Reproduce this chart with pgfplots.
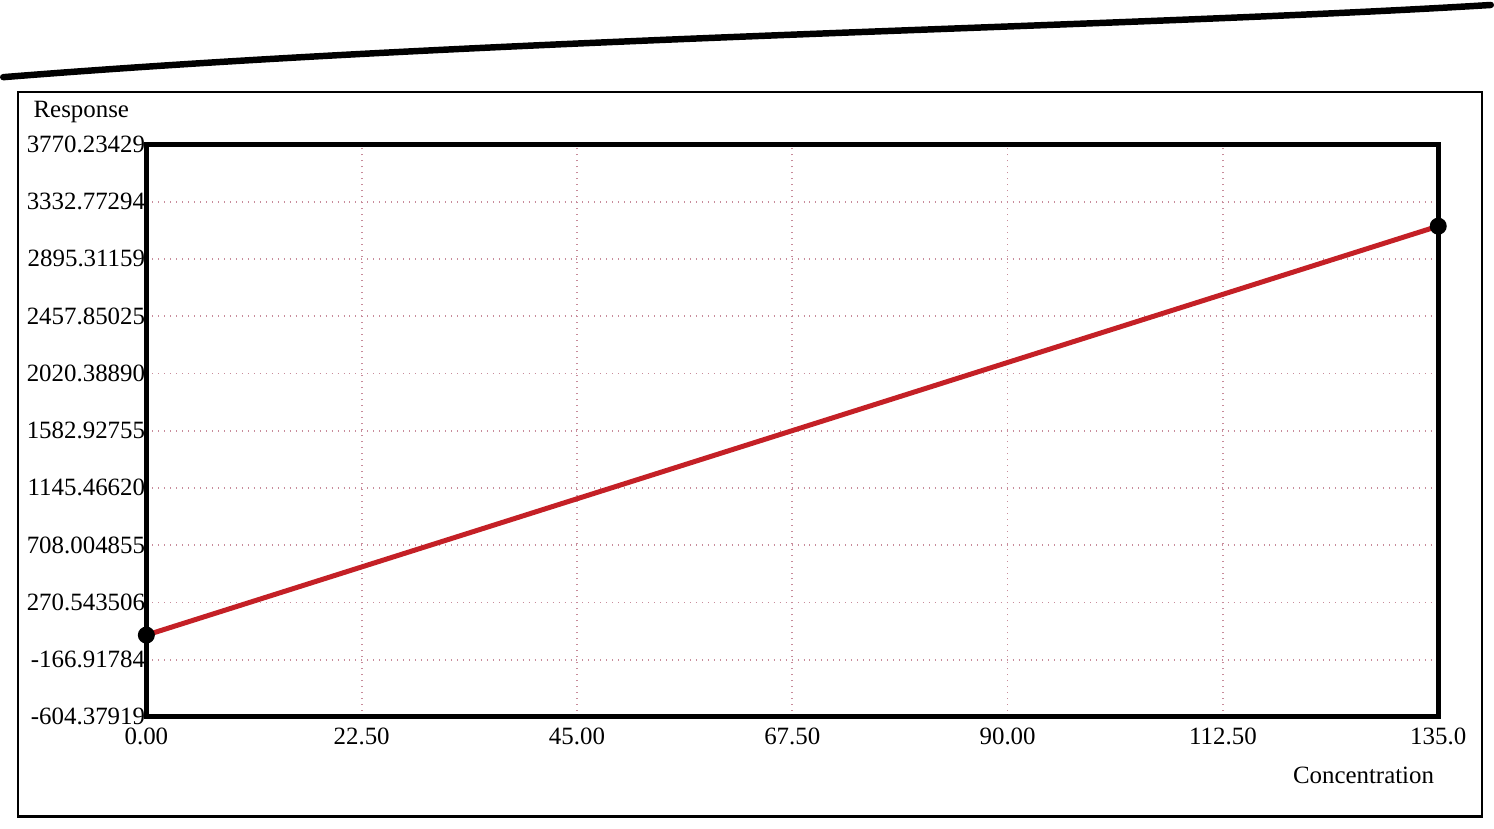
\documentclass[border=0pt]{standalone}
\usepackage{pgfplots}
\pgfplotsset{compat=1.18}
\usepackage{fontspec}
\setmainfont{Liberation Serif}
\definecolor{gridc}{RGB}{200,140,155}
\definecolor{linec}{RGB}{196,32,38}
\begin{document}
\fontsize{10}{12}\selectfont
\begin{tikzpicture}
\path (0,0) rectangle (597.6pt,333pt);
\draw[line width=2.6pt,line cap=round] (0pt,302pt) .. controls (200pt,318pt) and (450pt,322pt) .. (597.6pt,331pt);
\draw[line width=0.9pt] (6pt,5pt) rectangle (594pt,296pt);
\begin{axis}[
  at={(57.5pt,45pt)}, anchor=south west,
  scale only axis, width=519pt, height=230pt,
  xmin=0, xmax=135,
  ymin=-604.37919, ymax=3770.23429,
  axis line style={line width=2pt},
  tick style={draw=none},
  xtick={0,22.5,45,67.5,90,112.5,135},
  xticklabels={0.00,22.50,45.00,67.50,90.00,112.50,135.0},
  ytick={-604.37919,-166.91784,270.543506,708.004855,1145.46620,1582.92755,2020.38890,2457.85025,2895.31159,3332.77294,3770.23429},
  yticklabels={-604.37919,-166.91784,270.543506,708.004855,1145.46620,1582.92755,2020.38890,2457.85025,2895.31159,3332.77294,3770.23429},
  /pgf/number format/assume math mode=true,
  xticklabel style={font=\fontsize{10}{12}\selectfont, yshift=-1pt},
  yticklabel style={font=\fontsize{10}{12}\selectfont, xshift=3pt},
  grid=major,
  major grid style={gridc, dotted, line width=0.7pt},
  clip=false,
]
\addplot[linec, line width=2pt, mark=*, mark size=2.4pt,
  mark options={fill=black, draw=black}] coordinates {(0,20.6) (135,3145.3)};
\end{axis}
\node[anchor=west, inner sep=0pt] at (12pt,288pt) {Response};
\node[anchor=north east, inner sep=0pt] at (575pt,25pt) {Concentration};
\end{tikzpicture}
\end{document}
